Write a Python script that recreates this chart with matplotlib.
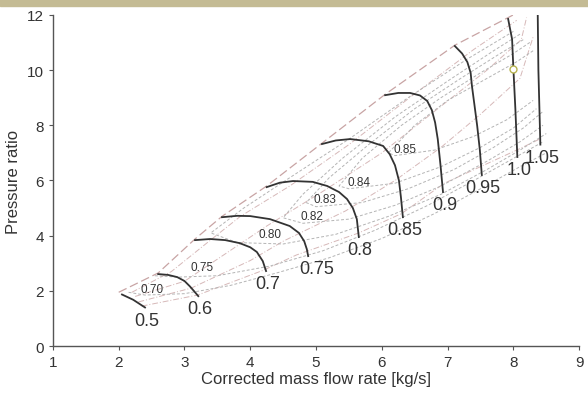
import matplotlib.pyplot as plt
from matplotlib.patches import Rectangle

plt.rcParams['font.family'] = ['Liberation Sans', 'DejaVu Sans']

# speed lines (relative corrected speed), points from surge to choke
speed_labels = ["0.5", "0.6", "0.7", "0.75", "0.8", "0.85", "0.9", "0.95", "1.0", "1.05"]
speed_x = [
    [2.05, 2.22, 2.40],
    [2.60, 2.75, 2.89, 3.00, 3.08, 3.15, 3.21],
    [3.16, 3.39, 3.62, 3.84, 4.00, 4.10, 4.19, 4.24],
    [3.57, 3.80, 4.00, 4.30, 4.60, 4.74, 4.82, 4.86, 4.88],
    [4.25, 4.45, 4.65, 4.95, 5.17, 5.35, 5.47, 5.56, 5.62, 5.65],
    [5.09, 5.30, 5.52, 5.80, 6.02, 6.12, 6.20, 6.26, 6.29, 6.32],
    [6.05, 6.25, 6.43, 6.58, 6.69, 6.76, 6.81, 6.85, 6.89, 6.93],
    [7.11, 7.22, 7.30, 7.35, 7.37, 7.41, 7.45, 7.49, 7.52],
    [7.92, 7.98, 8.00, 8.03, 8.06],
    [8.37, 8.38, 8.41],
]
speed_y = [
    [1.87, 1.68, 1.40],
    [2.61, 2.58, 2.50, 2.36, 2.17, 1.98, 1.81],
    [3.84, 3.88, 3.84, 3.73, 3.58, 3.41, 3.08, 2.72],
    [4.67, 4.72, 4.71, 4.60, 4.35, 4.10, 3.80, 3.51, 3.26],
    [5.76, 5.92, 5.98, 5.95, 5.80, 5.58, 5.33, 5.00, 4.60, 3.95],
    [7.32, 7.45, 7.50, 7.42, 7.25, 6.95, 6.55, 6.00, 5.40, 4.67],
    [9.09, 9.17, 9.17, 9.08, 8.88, 8.55, 8.10, 7.50, 6.60, 5.58],
    [10.87, 10.60, 10.29, 9.90, 9.42, 8.70, 7.97, 7.10, 6.20],
    [11.85, 11.12, 10.04, 8.59, 6.85],
    [12.0, 10.0, 7.30],
]

# surge line
surge_x = [2.0, 2.6, 3.16, 3.57, 4.25, 5.09, 6.05, 7.11, 7.92, 8.0]
surge_y = [1.95, 2.65, 3.88, 4.7, 5.8, 7.35, 9.12, 10.9, 11.9, 12.0]

# auxiliary (beta) lines
beta_x = [
    [2.2, 2.8, 3.4, 3.85, 4.6, 5.5, 6.45, 7.4, 8.05],
    [2.25, 3.0, 3.75, 4.25, 5.1, 6.0, 6.85, 7.6, 8.12, 8.2],
    [2.3, 3.1, 4.0, 4.5, 5.45, 6.2, 6.9, 7.5, 8.1, 8.3],
    [2.35, 3.2, 4.2, 4.7, 5.65, 6.3, 6.95, 7.5, 8.05, 8.4],
]
beta_y = [
    [1.95, 2.7, 3.85, 4.7, 5.8, 7.3, 9.05, 10.75, 11.8],
    [1.8, 2.35, 3.55, 4.35, 5.6, 7.0, 8.6, 10.0, 11.1, 11.9],
    [1.6, 2.1, 3.1, 3.8, 4.9, 6.0, 7.2, 8.4, 9.7, 11.2],
    [1.45, 1.85, 2.75, 3.3, 4.1, 4.8, 5.9, 6.5, 7.1, 7.5],
]

# efficiency contours
eff_labels = ["0.70", "0.75", "0.80", "0.82", "0.83", "0.84", "0.85"]
eff_label_x = [2.51, 3.27, 4.30, 4.94, 5.14, 5.65, 6.35]
eff_label_y = [2.07, 2.86, 4.06, 4.71, 5.33, 5.94, 7.14]
eff_x = [
    [2.15, 2.4, 3.0, 3.7, 4.4, 5.2, 6.0, 6.8, 7.5, 8.1, 8.5],
    [2.55, 2.9, 3.5, 4.3, 5.1, 5.9, 6.7, 7.4, 8.0, 8.45],
    [8.0, 7.3, 6.4, 5.5, 4.6, 3.9, 3.4, 3.8, 4.5, 5.3, 6.1, 6.9, 7.6, 8.1, 8.5],
    [8.1, 7.7, 7.0, 6.2, 5.4, 4.8, 4.5, 4.8, 5.5, 6.2, 6.9, 7.6, 8.1, 8.45],
    [8.15, 7.8, 7.2, 6.5, 5.8, 5.2, 4.85, 5.0, 5.7, 6.4, 7.1, 7.7, 8.15, 8.45],
    [8.25, 8.0, 7.5, 6.9, 6.3, 5.7, 5.35, 5.5, 6.2, 6.9, 7.5, 8.0, 8.35],
    [8.3, 8.05, 7.6, 7.0, 6.5, 6.1, 6.2, 6.8, 7.4, 7.9, 8.3],
]
eff_y = [
    [1.95, 1.85, 1.9, 2.2, 2.65, 3.2, 3.9, 4.8, 5.7, 6.5, 7.0],
    [2.55, 2.5, 2.55, 2.9, 3.45, 4.2, 5.1, 6.0, 6.8, 7.4],
    [11.4, 10.4, 9.0, 7.5, 6.1, 5.0, 4.1, 3.75, 3.7, 4.05, 4.7, 5.5, 6.4, 7.1, 7.7],
    [11.3, 10.7, 9.6, 8.3, 6.8, 5.5, 4.65, 4.45, 4.6, 5.1, 5.8, 6.7, 7.4, 8.0],
    [11.1, 10.6, 9.7, 8.6, 7.3, 6.1, 5.2, 5.05, 5.2, 5.7, 6.4, 7.2, 7.9, 8.5],
    [11.0, 10.6, 9.9, 9.0, 8.0, 6.8, 5.8, 5.7, 5.9, 6.5, 7.2, 7.9, 8.6],
    [10.7, 10.3, 9.7, 8.9, 8.0, 7.0, 6.9, 7.1, 7.6, 8.2, 8.9],
]

# design point
op_x = [8.0]
op_y = [10.05]

fig = plt.figure(figsize=(5.88, 4.06), dpi=100)
fig.patches.append(Rectangle((0, 1 - 7 / 406), 1, 7 / 406, transform=fig.transFigure,
                             color="#c4bb94", zorder=0))
ax = fig.add_axes([0.090, 0.145, 0.895, 0.816])

for xs, ys in zip(beta_x, beta_y):
    ax.plot(xs, ys, color="#d6b8b8", lw=0.7, ls=(0, (6, 2, 1, 2)), zorder=1)
ax.plot(surge_x, surge_y, color="#c8a4a4", lw=0.9, ls=(0, (7, 3)), zorder=1)

for xs, ys, lab, lx, ly in zip(eff_x, eff_y, eff_labels, eff_label_x, eff_label_y):
    ax.plot(xs, ys, color="#b4b4b4", lw=0.7, ls=(0, (3, 2)), zorder=1)
    ax.text(lx, ly, lab, fontsize=8.5, color="#333333", ha="center", va="center", zorder=3)

for xs, ys, lab in zip(speed_x, speed_y, speed_labels):
    ax.plot(xs, ys, color="#333333", lw=1.3, zorder=2, solid_joinstyle="round")
    dx = 6 if lab == "0.75" else 1
    ax.annotate(lab, (xs[-1], ys[-1]), xytext=(dx, -3), textcoords="offset points",
                ha="center", va="top", fontsize=13, color="#333333", zorder=3)

ax.plot(op_x, op_y, "o", ms=5, mfc="white", mec="#b8b450", mew=1.0, zorder=4)

ax.set_xlim(1, 9)
ax.set_ylim(0, 12)
ax.set_xticks(range(1, 10))
ax.set_yticks(range(0, 13, 2))
ax.spines["top"].set_visible(False)
ax.spines["right"].set_visible(False)
for s in ["left", "bottom"]:
    ax.spines[s].set_color("#555555")
    ax.spines[s].set_linewidth(1.0)
ax.tick_params(colors="#555555", labelcolor="#333333", labelsize=11, length=3, width=0.8)
ax.set_xlabel("Corrected mass flow rate [kg/s]", fontsize=12, color="#333333", labelpad=1)
ax.set_ylabel("Pressure ratio", fontsize=12, color="#333333", labelpad=4)

plt.savefig("out.png", dpi=100)
